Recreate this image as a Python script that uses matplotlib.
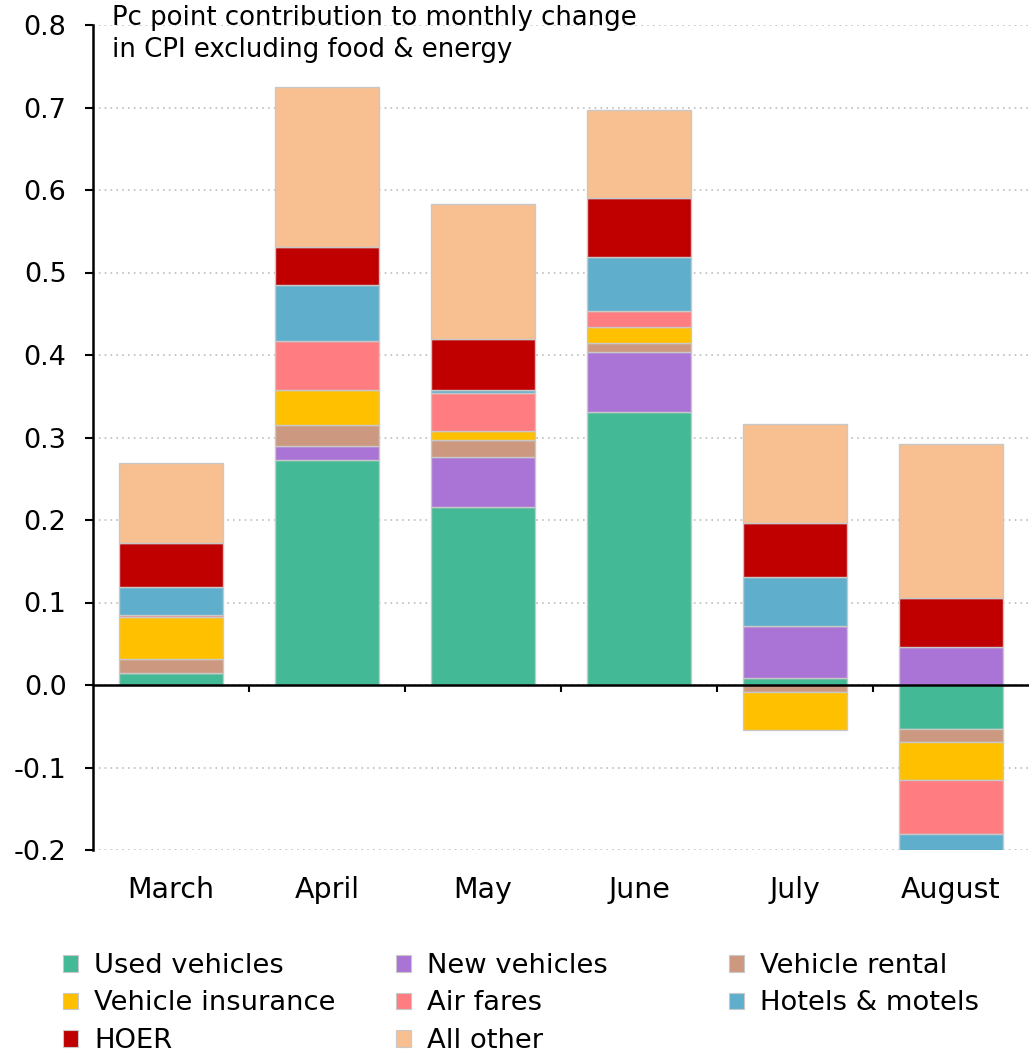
import matplotlib
matplotlib.use("Agg")
import matplotlib.pyplot as plt
from matplotlib.patches import Patch
import numpy as np

plt.rcParams['font.family'] = ['DejaVu Sans']

months = ["March", "April", "May", "June", "July", "August"]

used_vehicles     = [0.014, 0.273, 0.216, 0.331, 0.008, -0.053]
new_vehicles      = [0.000, 0.017, 0.060, 0.073, 0.064, 0.046]
vehicle_rental    = [0.017, 0.025, 0.021, 0.010, -0.008, -0.016]
vehicle_insurance = [0.052, 0.043, 0.011, 0.020, -0.047, -0.046]
air_fares         = [0.002, 0.059, 0.046, 0.019, 0.000, -0.065]
hotels_motels     = [0.034, 0.068, 0.004, 0.066, 0.059, -0.035]
hoer              = [0.053, 0.046, 0.062, 0.071, 0.065, 0.060]
all_other         = [0.097, 0.194, 0.163, 0.107, 0.120, 0.186]

series = [
    ("Used vehicles", used_vehicles, "#43B995"),
    ("New vehicles", new_vehicles, "#A974D6"),
    ("Vehicle rental", vehicle_rental, "#CC9980"),
    ("Vehicle insurance", vehicle_insurance, "#FFC000"),
    ("Air fares", air_fares, "#FF7C80"),
    ("Hotels & motels", hotels_motels, "#5FAECC"),
    ("HOER", hoer, "#C00000"),
    ("All other", all_other, "#F8C090"),
]

W, H = 1029, 1055
fig = plt.figure(figsize=(W / 100, H / 100), dpi=100)
ax = fig.add_axes([93 / W, 1 - 850 / H, 1 - 93 / W, (850 - 25) / H])

x = np.arange(len(months))
pos_base = np.zeros(len(months))
neg_base = np.zeros(len(months))
handles = {}
for name, vals, color in series:
    v = np.array(vals)
    bottoms = np.where(v >= 0, pos_base, neg_base)
    ax.bar(x, v, bottom=bottoms, width=0.67, color=color,
           edgecolor="#C8C8C8", linewidth=1.0, zorder=3)
    pos_base = pos_base + np.where(v > 0, v, 0)
    neg_base = neg_base + np.where(v < 0, v, 0)
    handles[name] = Patch(facecolor=color, edgecolor="#C8C8C8", linewidth=0.8)

ax.set_xlim(-0.5, 5.5)
ax.set_ylim(-0.2, 0.8)
yt = np.round(np.arange(-0.2, 0.81, 0.1), 1)
ax.set_yticks(yt)
ax.set_yticklabels([f"{t:.1f}" for t in yt], fontsize=19.5)
ax.tick_params(axis="y", direction="out", length=6, width=1.5, pad=13)
for t in yt:
    ax.axhline(t, color="#BDBDBD", linewidth=1.2, linestyle=(0, (1, 2.5)), zorder=1)

# zero line with category-boundary ticks
ax.axhline(0, color="black", linewidth=1.8, zorder=4)
for b in np.arange(0.5, 5.0, 1.0):
    ax.plot([b, b], [0, -0.009], color="black", linewidth=1.5, zorder=4,
            solid_capstyle="butt")

ax.set_xticks(x)
ax.set_xticklabels(months, fontsize=20.5)
ax.tick_params(axis="x", length=0, pad=19)

for s in ("top", "right", "bottom"):
    ax.spines[s].set_visible(False)
ax.spines["left"].set_linewidth(1.8)

title_lines = ["Pc point contribution to monthly change",
               "in CPI excluding food & energy"]
for i, line in enumerate(title_lines):
    fig.text(112 / W, 1 - (18 + 32 * i) / H, line, ha="left", va="center",
             fontsize=18.7, zorder=5)

# legend laid out as three columns, filled row by row
columns = [["Used vehicles", "Vehicle insurance", "HOER"],
           ["New vehicles", "Air fares", "All other"],
           ["Vehicle rental", "Hotels & motels"]]
col_x = [63, 396, 729]
for cx, names in zip(col_x, columns):
    fig.legend([handles[n] for n in names], names, loc="upper left",
               bbox_to_anchor=(cx / W, 1 - 953 / H), frameon=False,
               fontsize=19.7, handlelength=0.55, handleheight=0.55,
               handletextpad=0.6, labelspacing=0.42, borderpad=0,
               borderaxespad=0)

fig.savefig("out.png", dpi=100)
